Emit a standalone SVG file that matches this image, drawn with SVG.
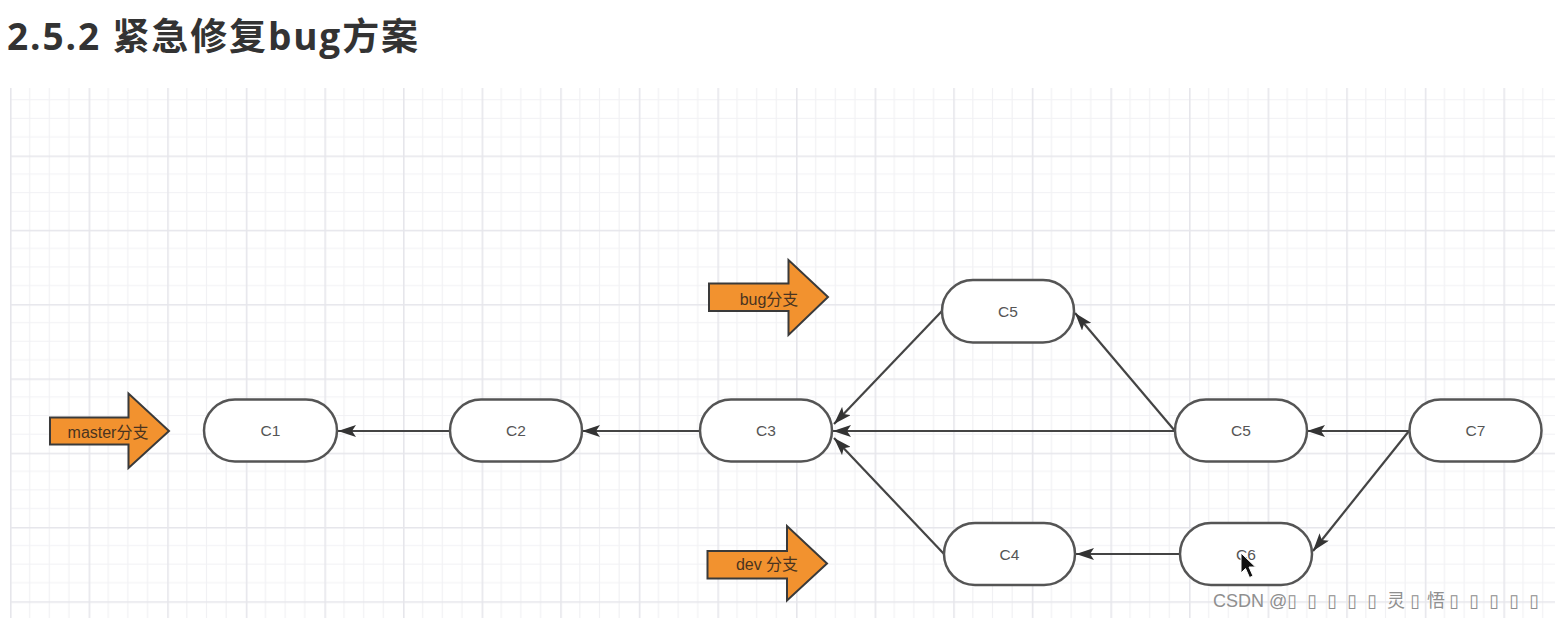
<svg xmlns="http://www.w3.org/2000/svg" width="1555" height="618" viewBox="0 0 1555 618">
<style>
.node rect{fill:#ffffff;stroke:#555555;stroke-width:2.5}
.node text{font-family:"Liberation Sans",Arial,sans-serif;font-size:15.5px;fill:#555555;text-anchor:middle}
.edge{fill:none;stroke:#444444;stroke-width:2.2;marker-end:url(#ah)}
.branch path{fill:#f2922f;stroke:#3a3a3a;stroke-width:2;stroke-linejoin:miter}
.branch text{font-family:"Liberation Sans","Noto Sans CJK SC",sans-serif;font-size:16px;fill:#4a3420;text-anchor:middle}
.title{font-family:"Open Sans","Noto Sans CJK SC",sans-serif;font-weight:bold;font-size:37px;fill:#333333}
.wm{font-family:"Liberation Sans","DejaVu Sans","Noto Sans CJK SC",sans-serif;font-size:18px;fill:#8f8f8f}
</style>
<defs>
<pattern id="grid" patternUnits="userSpaceOnUse" x="10" y="81.2" width="78.6" height="74.3">
<g stroke="#f1f1f4" stroke-width="1.2">
<line x1="19.65" y1="0" x2="19.65" y2="74.3"/>
<line x1="39.3" y1="0" x2="39.3" y2="74.3"/>
<line x1="58.95" y1="0" x2="58.95" y2="74.3"/>
<line x1="0" y1="18.575" x2="78.6" y2="18.575"/>
<line x1="0" y1="37.15" x2="78.6" y2="37.15"/>
<line x1="0" y1="55.725" x2="78.6" y2="55.725"/>
</g>
<g stroke="#e6e6eb" stroke-width="1.6">
<line x1="0.8" y1="0" x2="0.8" y2="74.3"/>
<line x1="0" y1="0.8" x2="78.6" y2="0.8"/>
</g>
</pattern>
<marker id="ah" markerUnits="userSpaceOnUse" viewBox="0 0 18 12" refX="18" refY="6" markerWidth="18" markerHeight="12" orient="auto">
<path d="M0,0 L18,6 L0,12 L4,6 z" fill="#333333"/>
</marker>
</defs>
<rect x="0" y="0" width="1555" height="618" fill="#ffffff"/>
<rect x="10" y="88" width="1545" height="530" fill="url(#grid)"/>

<text class="title" x="7" y="50" textLength="411" lengthAdjust="spacing">2.5.2 紧急修复bug方案</text>

<g id="connectors">
<line class="edge" x1="450" y1="431" x2="338" y2="431"/>
<line class="edge" x1="700" y1="431" x2="582" y2="431"/>
<line class="edge" x1="1175" y1="431" x2="833" y2="431"/>
<line class="edge" x1="1409" y1="431" x2="1307" y2="431"/>
<line class="edge" x1="942" y1="311" x2="834" y2="424"/>
<line class="edge" x1="944" y1="554" x2="834" y2="438"/>
<line class="edge" x1="1175" y1="431" x2="1075" y2="313"/>
<line class="edge" x1="1409" y1="431" x2="1313" y2="551"/>
<line class="edge" x1="1180" y1="554" x2="1076" y2="554"/>
</g>

<g id="master-branch" class="branch">
<path d="M50,417.5 L128.5,417.5 L128.5,393.5 L169,431 L128.5,468 L128.5,444.5 L50,444.5 Z"/>
<text x="108" y="438">master分支</text>
</g>
<g id="bug-branch" class="branch">
<path d="M709,283.5 L788.5,283.5 L788.5,260 L828,297 L788.5,335 L788.5,311 L709,311 Z"/>
<text x="769" y="305">bug分支</text>
</g>
<g id="dev-branch" class="branch">
<path d="M707.5,551 L787,551 L787,526 L827,563.5 L787,600.5 L787,578.5 L707.5,578.5 Z"/>
<text x="767" y="570">dev 分支</text>
</g>

<g id="C1" class="node"><rect x="204" y="399.5" width="133" height="62" rx="31" ry="31"/><text x="270.5" y="436">C1</text></g>
<g id="C2" class="node"><rect x="450" y="399.5" width="132" height="62" rx="31" ry="31"/><text x="516" y="436">C2</text></g>
<g id="C3" class="node"><rect x="700" y="399.5" width="132" height="62" rx="31" ry="31"/><text x="766" y="436">C3</text></g>
<g id="C5-bug" class="node"><rect x="942" y="280" width="132" height="62.5" rx="31" ry="31"/><text x="1008" y="317">C5</text></g>
<g id="C5" class="node"><rect x="1175" y="399.5" width="132" height="62" rx="31" ry="31"/><text x="1241" y="436">C5</text></g>
<g id="C7" class="node"><rect x="1409.5" y="399.5" width="132" height="62" rx="31" ry="31"/><text x="1475.5" y="436">C7</text></g>
<g id="C4" class="node"><rect x="944" y="523" width="131" height="62" rx="31" ry="31"/><text x="1009.5" y="560">C4</text></g>
<g id="C6" class="node"><rect x="1180" y="523" width="132" height="62" rx="31" ry="31"/><text x="1246" y="560">C6</text></g>

<path d="M1241,553 L1241,573 L1245.5,568.5 L1249.5,577.5 L1253,576 L1249,567 L1255.5,567 Z" fill="#111111" stroke="#ffffff" stroke-width="1"/>

<g class="wm">
<text x="1213" y="607">CSDN @</text>
<text y="607" text-anchor="middle"><tspan x="1292">▯</tspan><tspan x="1312">▯</tspan><tspan x="1332">▯</tspan><tspan x="1352">▯</tspan><tspan x="1372">▯</tspan><tspan x="1396">灵</tspan><tspan x="1415">▯</tspan><tspan x="1436">悟</tspan><tspan x="1454">▯</tspan><tspan x="1474">▯</tspan><tspan x="1494">▯</tspan><tspan x="1514">▯</tspan><tspan x="1534">▯</tspan></text>
</g>
</svg>
